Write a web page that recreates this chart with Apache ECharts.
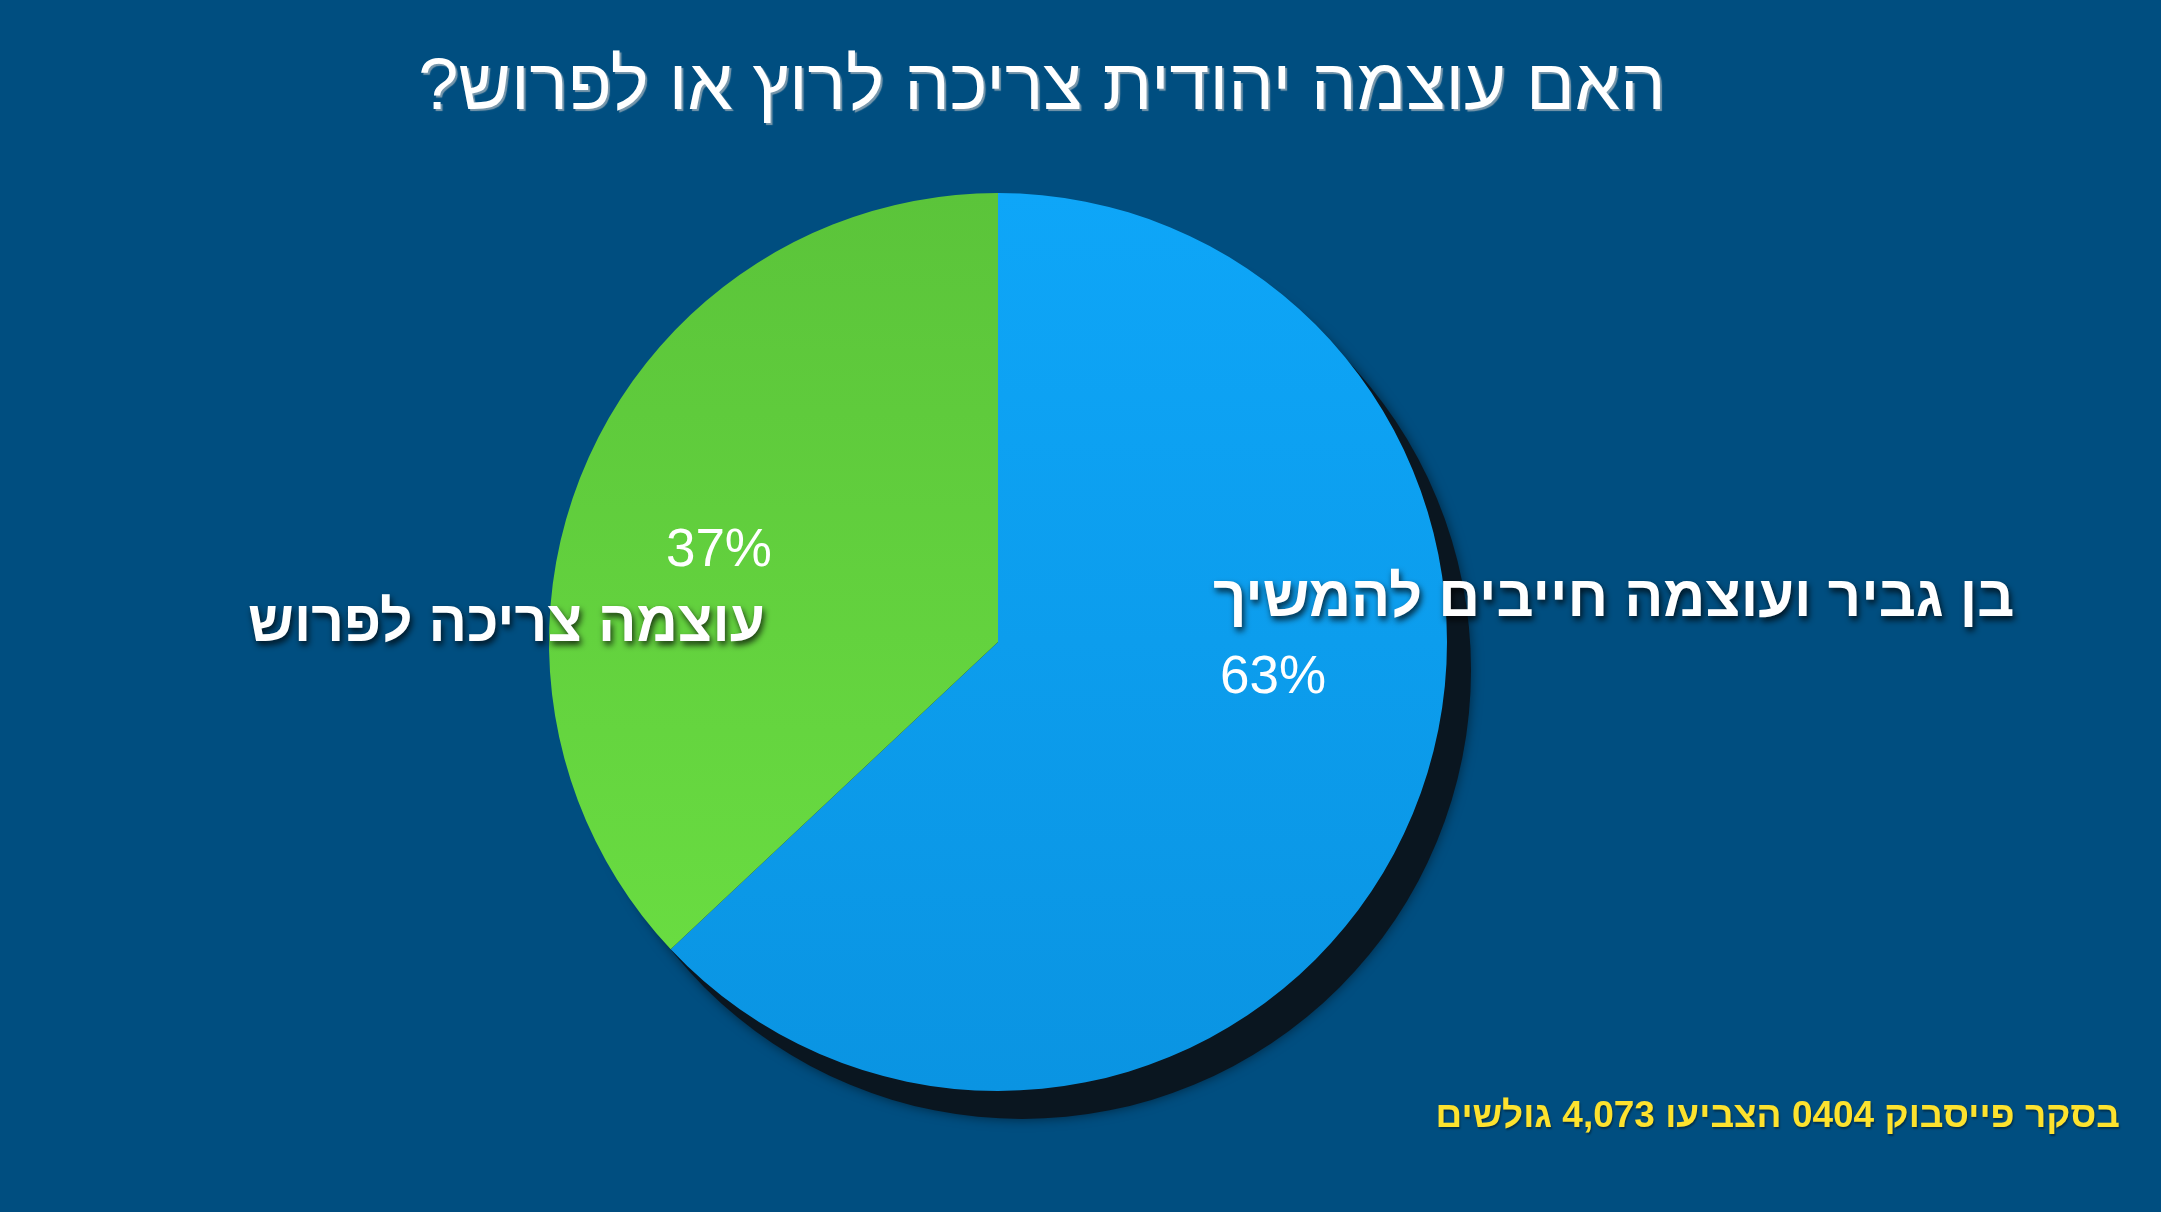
<!DOCTYPE html>
<html lang="he">
<head>
<meta charset="utf-8">
<script src="https://cdn.jsdelivr.net/npm/echarts@6/dist/echarts.min.js"></script>
<style>
html,body{margin:0;padding:0;background:#004e80;}
#chart{width:2161px;height:1212px;}
</style>
</head>
<body>
<div id="chart"></div>
<script>
// ---- data ----
const titleText = "האם עוצמה יהודית צריכה לרוץ או לפרוש?\u200F";
const footerText = "בסקר פייסבוק 0404 הצביעו 4,073 גולשים";
const categories = ["בן גביר ועוצמה חייבים להמשיך", "עוצמה צריכה לפרוש"];
const values = [63, 37];
const sliceColors = [
  ["#0ea6f8", "#0a94e2"],
  ["#5bc43a", "#69dc41"]
];

const total = values.reduce((a, b) => a + b, 0);
const chart = echarts.init(document.getElementById('chart'));
const FONT = '"Liberation Sans", Arial, "DejaVu Sans", sans-serif';
const center = [998, 642];
const radius = 449;

const labelPlacement = [
  { x: 1213, y: 638, align: 'left' },
  { x: 772, y: 587, align: 'right' }
];

const nameShadow = {
  textShadowColor: 'rgba(0,0,0,0.75)',
  textShadowOffsetX: 2,
  textShadowOffsetY: 4,
  textShadowBlur: 6
};

const option = {
  backgroundColor: '#004e80',
  title: [
    {
      text: titleText,
      left: 1037,
      top: 48,
      textAlign: 'center',
      textStyle: {
        color: '#ffffff',
        fontFamily: FONT,
        fontWeight: 'normal',
        fontSize: 72,
        textShadowColor: 'rgba(200,200,200,0.6)',
        textShadowOffsetX: 2,
        textShadowOffsetY: 2,
        textShadowBlur: 1
      }
    },
    {
      text: footerText,
      right: 36,
      top: 1093,
      textStyle: {
        color: '#fde22e',
        fontFamily: FONT,
        fontWeight: 'bold',
        fontSize: 37,
        textShadowColor: 'rgba(0,0,0,0.4)',
        textShadowOffsetX: 1,
        textShadowOffsetY: 2,
        textShadowBlur: 2
      }
    }
  ],
  series: [
    {
      type: 'pie',
      name: 'shadow',
      silent: true,
      z: 1,
      center: [center[0] + 24, center[1] + 28],
      radius: radius,
      label: { show: false },
      labelLine: { show: false },
      itemStyle: {
        color: '#0a1620',
        shadowColor: 'rgba(0,0,0,0.5)',
        shadowBlur: 12
      },
      data: [{ value: total, name: '' }]
    },
    {
      type: 'pie',
      z: 2,
      center: center,
      radius: radius,
      startAngle: 90,
      clockwise: true,
      silent: true,
      labelLine: { show: false },
      label: {
        show: true,
        position: 'inside',
        overflow: 'none',
        formatter: function (p) {
          return p.dataIndex === 0
            ? '{n|' + p.name + '}\n{pl|' + Math.round(p.percent) + '%}'
            : '{p|' + Math.round(p.percent) + '%}\n{nr|' + p.name + '}';
        },
        rich: {
          n: Object.assign({
            color: '#ffffff',
            fontFamily: FONT,
            fontWeight: 'bold',
            fontSize: 58,
            lineHeight: 80
          }, nameShadow),
          nr: Object.assign({
            color: '#ffffff',
            fontFamily: FONT,
            fontWeight: 'bold',
            fontSize: 57,
            lineHeight: 72,
            padding: [0, 7, 0, 0]
          }, nameShadow),
          p: {
            color: '#ffffff',
            fontFamily: FONT,
            fontWeight: 'normal',
            fontSize: 53,
            lineHeight: 76
          },
          pl: {
            color: '#ffffff',
            fontFamily: FONT,
            fontWeight: 'normal',
            fontSize: 53,
            lineHeight: 76,
            padding: [0, 0, 0, 7]
          }
        }
      },
      labelLayout: function (params) {
        const lp = labelPlacement[params.dataIndex];
        return { x: lp.x, y: lp.y, align: lp.align, verticalAlign: 'middle' };
      },
      data: categories.map((name, i) => ({
        name: name,
        value: values[i],
        itemStyle: {
          color: {
            type: 'linear', x: 0, y: 0, x2: 0, y2: 1,
            colorStops: [
              { offset: 0, color: sliceColors[i][0] },
              { offset: 1, color: sliceColors[i][1] }
            ]
          }
        }
      }))
    }
  ]
};
chart.setOption(option);
</script>
</body>
</html>
